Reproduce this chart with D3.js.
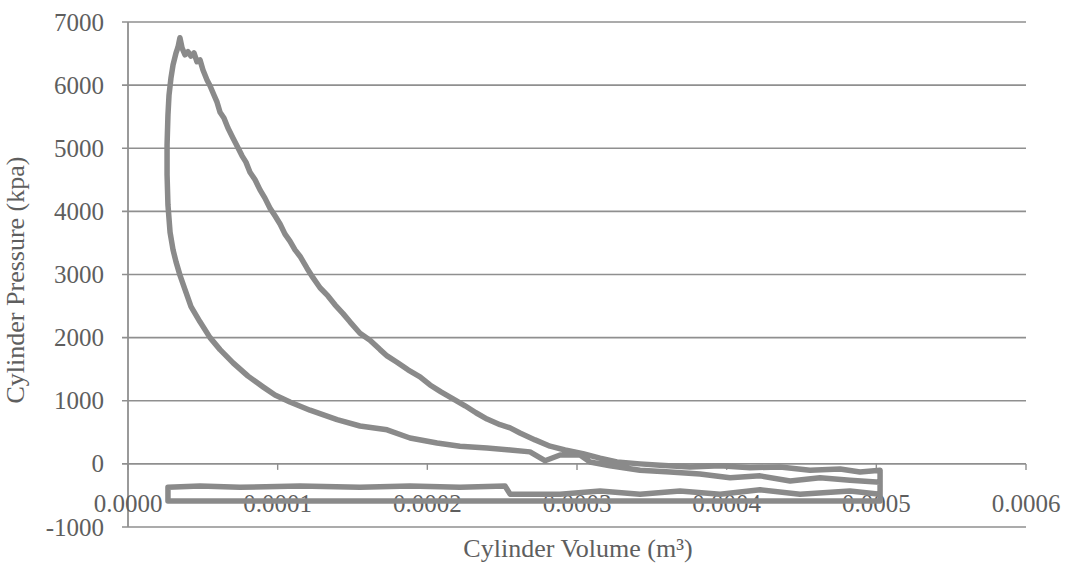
<!DOCTYPE html>
<html>
<head>
<meta charset="utf-8">
<script src="https://cdn.jsdelivr.net/npm/d3@7"></script>
<style>
  html, body { margin: 0; padding: 0; background: #fff; }
  svg { display: block; }
  text { font-family: "Liberation Serif", "Times New Roman", serif; fill: #5e5e5e; }
</style>
</head>
<body>
<svg id="chart" width="1065" height="563"></svg>
<script>
// ---- data (volume in m^3 x 1e-6, pressure in kPa) ----
const compressionV = [502.5,482.4,462.4,442.4,422.3,402.3,382.2,362.2,342.1,322.1,308.7,302.0,288.7,278.6,268.6,255.3,239.9,221.8,206.5,188.4,173.1,155.0,139.7,121.6,108.2,98.2,90.2,80.2,70.2,61.5,54.8,48.1,42.1,38.1,34.7,32.1,30.1,28.1,26.7,26.1,26.1,26.7,27.4,28.7,30.1,32.1,33.4,34.7];
const compressionP = [-290,-260,-220,-270,-190,-220,-160,-130,-100,-30,30,140,140,50,190,220,250,280,330,410,540,600,700,850,980,1090,1220,1390,1600,1810,2000,2250,2490,2760,2990,3200,3390,3670,4100,4580,5050,5530,5840,6110,6320,6510,6600,6750];

const expansionV = [36.1,38.1,40.1,42.1,44.1,46.1,48.1,50.1,52.8,54.8,57.5,59.5,61.5,64.1,66.8,70.2,72.8,76.2,78.8,81.5,84.9,88.2,91.5,94.9,98.2,101.6,104.9,108.2,111.6,114.9,119.6,123.6,128.3,133.6,138.3,143.7,148.3,155.0,161.7,168.4,173.1,179.7,187.1,195.1,201.8,209.1,217.2,225.2,232.5,239.9,248.6,255.3,261.9,272.0,282.0,292.0,304.0,315.4,326.7,342.1,355.5,375.5,395.6,415.6,435.7,455.7,475.8,489.1,502.5];
const expansionP = [6590,6480,6530,6460,6510,6370,6400,6240,6080,5990,5840,5730,5570,5480,5320,5160,5040,4880,4780,4620,4500,4340,4210,4050,3930,3800,3640,3530,3390,3290,3100,2950,2790,2660,2520,2380,2250,2070,1960,1810,1710,1610,1490,1380,1250,1140,1030,920,810,710,620,570,490,380,280,220,160,90,30,0,-20,-50,-30,-60,-50,-100,-80,-130,-100];

const exhaustV = [502.5,482.4,449.0,422.3,395.6,368.8,342.1,315.4,288.7,255.3,251.9,221.8,188.4,155.0,114.9,74.8,48.1,26.7];
const exhaustP = [-480,-430,-480,-410,-480,-430,-480,-430,-480,-480,-350,-370,-350,-370,-350,-370,-350,-370];

const intakeV = [26.7,81.5,135.0,181.7,228.5,275.3,328.8,382.2,435.7,502.5];
const intakeP = [-590,-590,-590,-590,-590,-590,-590,-590,-590,-590];

const xTicks = [0, 0.0001, 0.0002, 0.0003, 0.0004, 0.0005, 0.0006];
const yTicks = [-1000, 0, 1000, 2000, 3000, 4000, 5000, 6000, 7000];
const xTitle = "Cylinder Volume (m³)";
const yTitle = "Cylinder Pressure (kpa)";

// ---- build series ----
const allV = [...compressionV, ...expansionV, ...exhaustV, ...intakeV, compressionV[0]];
const allP = [...compressionP, ...expansionP, ...exhaustP, ...intakeP, compressionP[0]];
const points = allV.map((v, i) => ({ v: v * 1e-6, p: allP[i] }));

const svg = d3.select("#chart");
const x = d3.scaleLinear().domain([0, 0.0006]).range([128, 1026]);
const y = d3.scaleLinear().domain([-1000, 7000]).range([527, 22]);

const gridColor = "#8f8f8f";

// horizontal gridlines (with left tick stubs)
svg.append("g").selectAll("line").data(yTicks).join("line")
  .attr("x1", x(0) - 6).attr("x2", x(0.0006))
  .attr("y1", d => y(d)).attr("y2", d => y(d))
  .attr("stroke", gridColor).attr("stroke-width", 1.6);

// left axis line
svg.append("line")
  .attr("x1", x(0)).attr("x2", x(0))
  .attr("y1", y(7000)).attr("y2", y(-1000))
  .attr("stroke", gridColor).attr("stroke-width", 1.8);

// x tick marks on zero line
svg.append("g").selectAll("line").data(xTicks).join("line")
  .attr("x1", d => x(d)).attr("x2", d => x(d))
  .attr("y1", y(0)).attr("y2", y(0) + 6)
  .attr("stroke", gridColor).attr("stroke-width", 1.4);

// y tick labels
svg.append("g").selectAll("text").data(yTicks).join("text")
  .attr("x", 104).attr("y", d => y(d)).attr("dy", "0.34em")
  .attr("text-anchor", "end").attr("font-size", 25)
  .text(d => String(d));

// x tick labels
svg.append("g").selectAll("text").data(xTicks).join("text")
  .attr("x", d => x(d)).attr("y", 512)
  .attr("text-anchor", "middle").attr("font-size", 25)
  .text(d => d3.format(".4f")(d));

// axis titles
svg.append("text")
  .attr("x", 578).attr("y", 557)
  .attr("text-anchor", "middle").attr("font-size", 26)
  .text(xTitle);

svg.append("text")
  .attr("transform", "translate(24,280) rotate(-90)")
  .attr("text-anchor", "middle").attr("font-size", 26)
  .text(yTitle);

// data line
const line = d3.line().x(d => x(d.v)).y(d => y(d.p));
svg.append("path")
  .datum(points)
  .attr("d", line)
  .attr("fill", "none")
  .attr("stroke", "#8a8a8a")
  .attr("stroke-width", 5.5)
  .attr("stroke-linejoin", "round")
  .attr("stroke-linecap", "round");
</script>
</body>
</html>
